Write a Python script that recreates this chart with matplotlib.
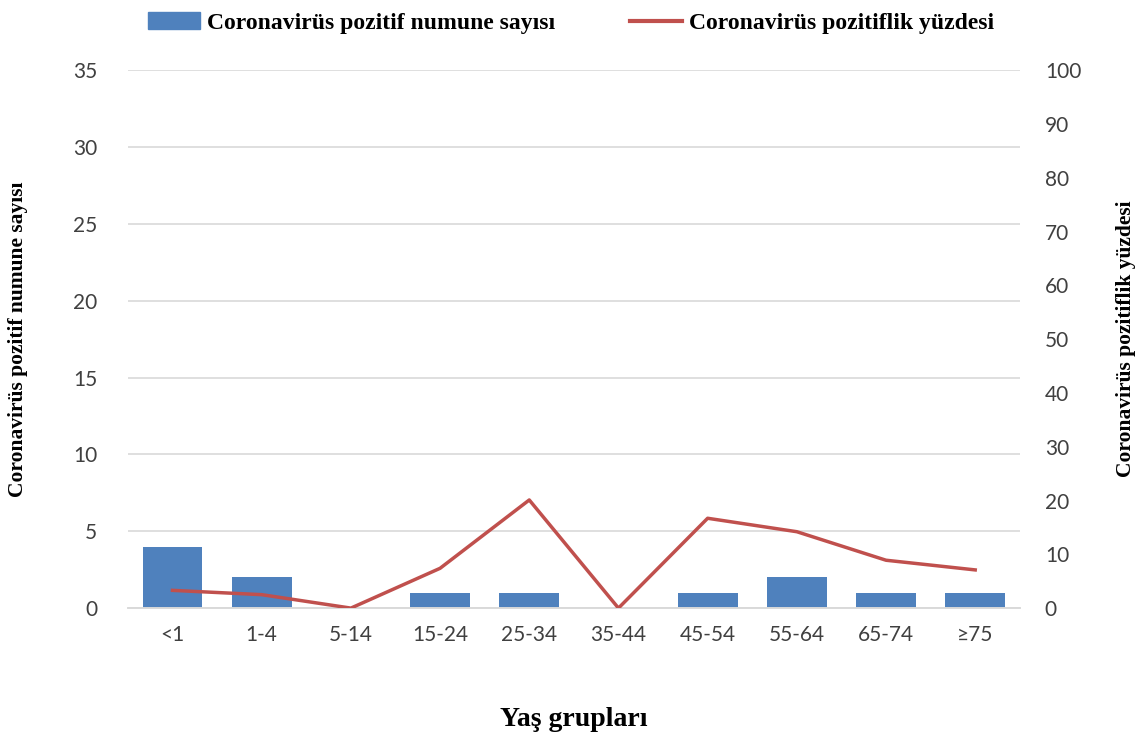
import matplotlib.pyplot as plt
from matplotlib.patches import Patch
from matplotlib.lines import Line2D

# Data
age_groups = ["<1", "1-4", "5-14", "15-24", "25-34", "35-44", "45-54", "55-64", "65-74", "≥75"]
positive_counts = [4, 2, 0, 1, 1, 0, 1, 2, 1, 1]
positive_pct = [3.3, 2.5, 0, 7.4, 20.1, 0, 16.7, 14.2, 8.9, 7.1]

plt.rcParams["font.family"] = ["Liberation Serif", "DejaVu Serif"]
tick_font = ["Lato", "DejaVu Sans"]

fig = plt.figure(figsize=(11.42, 7.38), dpi=100)
ax = fig.add_axes([0.112, 0.176, 0.781, 0.729])
ax2 = ax.twinx()

x = range(len(age_groups))
ax.bar(x, positive_counts, width=0.67, color="#4f81bd", zorder=2)
ax2.plot(x, positive_pct, color="#c0504d", linewidth=2.5, zorder=3)

ax.set_ylim(0, 35)
ax.set_yticks(range(0, 36, 5))
ax2.set_ylim(0, 100)
ax2.set_yticks(range(0, 101, 10))
ax.set_xlim(-0.5, len(age_groups) - 0.5)
ax.set_xticks(list(x))
ax.set_xticklabels(age_groups)

ax.grid(axis="y", color="#d9d9d9", linewidth=1.2, zorder=0)
ax.set_axisbelow(True)
for a in (ax, ax2):
    for s in ("top", "left", "right"):
        a.spines[s].set_visible(False)
    a.spines["bottom"].set_color("#d9d9d9")
    a.spines["bottom"].set_linewidth(1.2)
    a.tick_params(length=0, labelsize=15, labelcolor="#404040")
    for lbl in a.get_xticklabels() + a.get_yticklabels():
        lbl.set_family(tick_font)
ax.tick_params(axis="y", pad=22)
ax.tick_params(axis="x", pad=12)
ax2.tick_params(axis="y", pad=18)

ax.set_ylabel("Coronavirüs pozitif numune sayısı", fontsize=15.5, fontweight="bold")
ax.yaxis.set_label_coords(-0.112, 0.5)
ax2.set_ylabel("Coronavirüs pozitiflik yüzdesi", fontsize=15.5, fontweight="bold")
ax2.yaxis.set_label_coords(1.108, 0.5)
ax.set_xlabel("Yaş grupları", fontsize=20, fontweight="bold", labelpad=45)

handles = [Patch(color="#4f81bd"), Line2D([0], [0], color="#c0504d", linewidth=3)]
labels = ["Coronavirüs pozitif numune sayısı", "Coronavirüs pozitiflik yüzdesi"]
fig.legend(handles, labels, loc="upper center", bbox_to_anchor=(0.5, 1.012), ncol=2,
           frameon=False, prop={"size": 17, "weight": "bold"}, columnspacing=3.2,
           handlelength=2.2, handletextpad=0.3)

fig.savefig("out.png", dpi=100)
